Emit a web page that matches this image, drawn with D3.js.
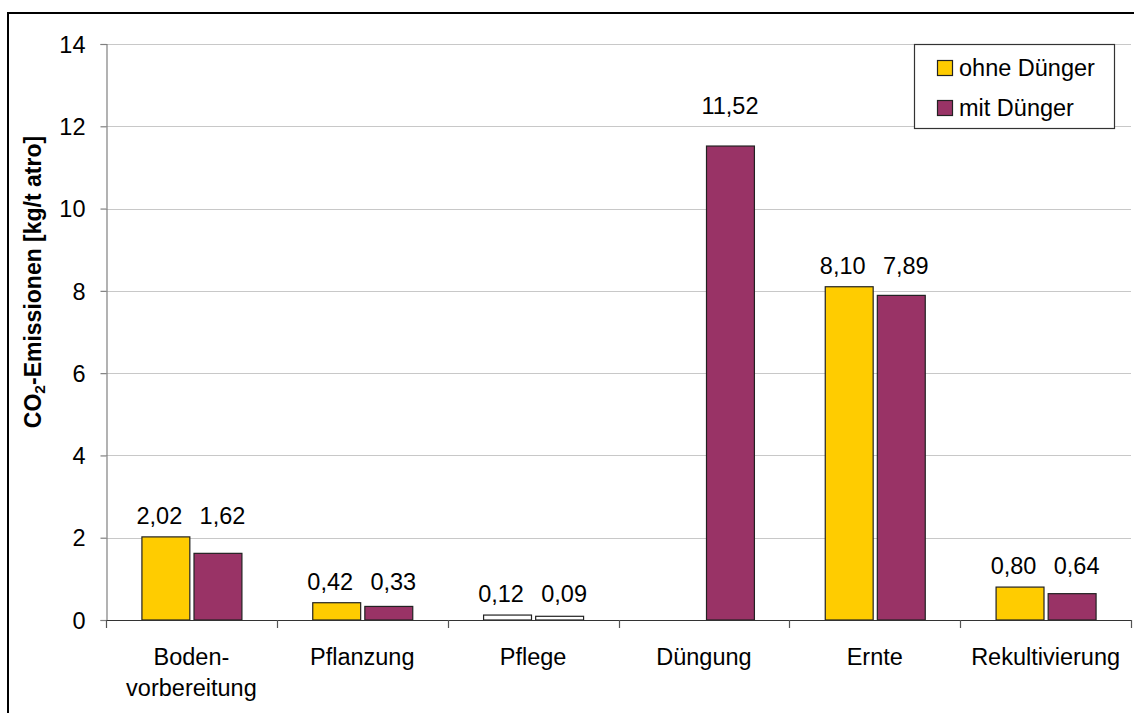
<!DOCTYPE html>
<html>
<head>
<meta charset="utf-8">
<script src="https://cdn.jsdelivr.net/npm/d3@7"></script>
<style>
  html, body { margin: 0; padding: 0; background: #fff; }
  svg { display: block; font-family: "Liberation Sans", Arial, sans-serif; }
</style>
</head>
<body>
<svg id="chart" width="1134" height="713"></svg>
<script>
// Process steps (two-line labels split with "\n")
const categories = ["Boden-\nvorbereitung", "Pflanzung", "Pflege", "Düngung", "Ernte", "Rekultivierung"];
const seriesNames = ["ohne Dünger", "mit Dünger"];
const ohneDuenger = [2.02, 0.42, 0.12, 0, 8.10, 0.80];
const mitDuenger  = [1.62, 0.33, 0.09, 11.52, 7.89, 0.64];
const yTicks = [0, 2, 4, 6, 8, 10, 12, 14];
const seriesColors = ["#FFCC00", "#993366"];
// The "Pflege" step is drawn with unfilled bars
const unfilledCategory = "Pflege";

const fmt = v => v.toFixed(2).replace(".", ",");
const FONT = 23.5;

const svg = d3.select("#chart");
const margin = { left: 106, right: 3, top: 44, bottom: 93 };
const W = 1134, H = 713;
const plotL = margin.left, plotR = W - margin.right;
const plotT = margin.top, plotB = H - margin.bottom;

// Outer chart frame (only its left and top edges fall inside the page)
svg.append("rect")
  .attr("x", 8).attr("y", 13)
  .attr("width", 1200).attr("height", 800)
  .attr("fill", "none").attr("stroke", "#000").attr("stroke-width", 2);

const y = d3.scaleLinear().domain([0, 14]).range([plotB, plotT]);
const x0 = d3.scaleBand().domain(categories).range([plotL, plotR]).padding(0);
const half = 50;
const x1 = d3.scaleBand().domain(seriesNames)
  .range([x0.bandwidth() / 2 - half, x0.bandwidth() / 2 + half])
  .paddingInner(0.08).paddingOuter(0);

// Horizontal gridlines
svg.append("g").selectAll("line").data(yTicks.filter(t => t > 0)).join("line")
  .attr("x1", plotL).attr("x2", plotR)
  .attr("y1", d => Math.round(y(d)) + 0.5).attr("y2", d => Math.round(y(d)) + 0.5)
  .attr("stroke", "#c8c8c8").attr("stroke-width", 1);

// Bars
const rows = categories.map((c, i) => ({
  cat: c,
  max: Math.max(ohneDuenger[i], mitDuenger[i]),
  values: [
    { s: seriesNames[0], v: ohneDuenger[i], color: seriesColors[0] },
    { s: seriesNames[1], v: mitDuenger[i], color: seriesColors[1] }
  ]
}));

const groups = svg.append("g").selectAll("g").data(rows).join("g")
  .attr("transform", d => `translate(${x0(d.cat)},0)`);

groups.selectAll("rect").data(d => d.values.filter(e => e.v > 0).map(e => ({ ...e, cat: d.cat }))).join("rect")
  .attr("x", d => x1(d.s) + 0.5)
  .attr("y", d => y(d.v))
  .attr("width", x1.bandwidth())
  .attr("height", d => y(0) - y(d.v))
  .attr("fill", d => d.cat === unfilledCategory ? "#fff" : d.color)
  .attr("stroke", "#222").attr("stroke-width", 1.2);

// Value labels: a pair of labels shares one line above the taller bar,
// each nudged slightly outward from the pair's centre; a lone label sits higher
const labelNudge = { "ohne Dünger": -6, "mit Dünger": 5 };
groups.selectAll("text")
  .data(d => {
    const shown = d.values.filter(e => e.v > 0);
    return shown.map(e => ({ ...e, max: d.max, pair: shown.length > 1 }));
  })
  .join("text")
  .attr("x", d => x1(d.s) + x1.bandwidth() / 2 + (d.pair ? labelNudge[d.s] : 0))
  .attr("y", d => y(d.max) - (d.pair ? 13 : 32))
  .attr("text-anchor", "middle")
  .attr("font-size", FONT)
  .attr("fill", "#000")
  .text(d => fmt(d.v));

// Y axis
const yAxis = d3.axisLeft(y).tickValues(yTicks).tickSize(6).tickPadding(15).tickFormat(d => d);
const yg = svg.append("g").attr("transform", `translate(${plotL + 0.5},0)`).call(yAxis);
yg.select(".domain").attr("stroke", "#808080").attr("stroke-width", 1.2);
yg.selectAll(".tick line").attr("stroke", "#808080").attr("stroke-width", 1.2);
yg.selectAll(".tick text").attr("font-size", FONT).attr("fill", "#000")
  .attr("font-family", "Liberation Sans, Arial, sans-serif").attr("dy", "0.35em");

// X axis baseline and category dividers
const xg = svg.append("g");
xg.append("line")
  .attr("x1", plotL).attr("x2", plotR)
  .attr("y1", plotB + 0.5).attr("y2", plotB + 0.5)
  .attr("stroke", "#333").attr("stroke-width", 1.2);
const dividers = categories.map(c => x0(c)).concat([plotR]);
xg.selectAll("line.div").data(dividers).join("line").attr("class", "div")
  .attr("x1", d => Math.round(d) + 0.5).attr("x2", d => Math.round(d) + 0.5)
  .attr("y1", plotB).attr("y2", plotB + 8)
  .attr("stroke", "#555").attr("stroke-width", 1.2);

// Category labels
const catLabels = svg.append("g").selectAll("text").data(categories).join("text")
  .attr("x", d => x0(d) + x0.bandwidth() / 2)
  .attr("y", 665)
  .attr("text-anchor", "middle")
  .attr("font-size", FONT)
  .attr("fill", "#000");
catLabels.each(function(d) {
  const lines = d.split("\n");
  const t = d3.select(this);
  lines.forEach((ln, i) => {
    t.append("tspan").attr("x", x0(d) + x0.bandwidth() / 2)
      .attr("dy", i === 0 ? 0 : 31).text(ln);
  });
});

// Y axis title with subscript
const title = svg.append("text")
  .attr("transform", "translate(41,282) rotate(-90)")
  .attr("text-anchor", "middle")
  .attr("font-size", 23)
  .attr("font-weight", "bold")
  .attr("fill", "#000");
title.append("tspan").text("CO");
title.append("tspan").attr("font-size", 15.5).attr("dy", 4).text("2");
title.append("tspan").attr("dy", -4).text("-Emissionen [kg/t atro]");

// Legend
const lg = svg.append("g");
lg.append("rect")
  .attr("x", 914.5).attr("y", 44.5).attr("width", 200).attr("height", 84)
  .attr("fill", "#fff").attr("stroke", "#333").attr("stroke-width", 1.2);
const items = lg.selectAll("g").data(seriesNames).join("g")
  .attr("transform", (d, i) => `translate(937,${60 + i * 40})`);
items.append("rect")
  .attr("x", 0.5).attr("y", 0.5).attr("width", 15).attr("height", 15)
  .attr("fill", (d, i) => seriesColors[i]).attr("stroke", "#222").attr("stroke-width", 1.2);
items.append("text")
  .attr("x", 22).attr("y", 15.5)
  .attr("font-size", FONT).attr("fill", "#000")
  .text(d => d);
</script>
</body>
</html>
